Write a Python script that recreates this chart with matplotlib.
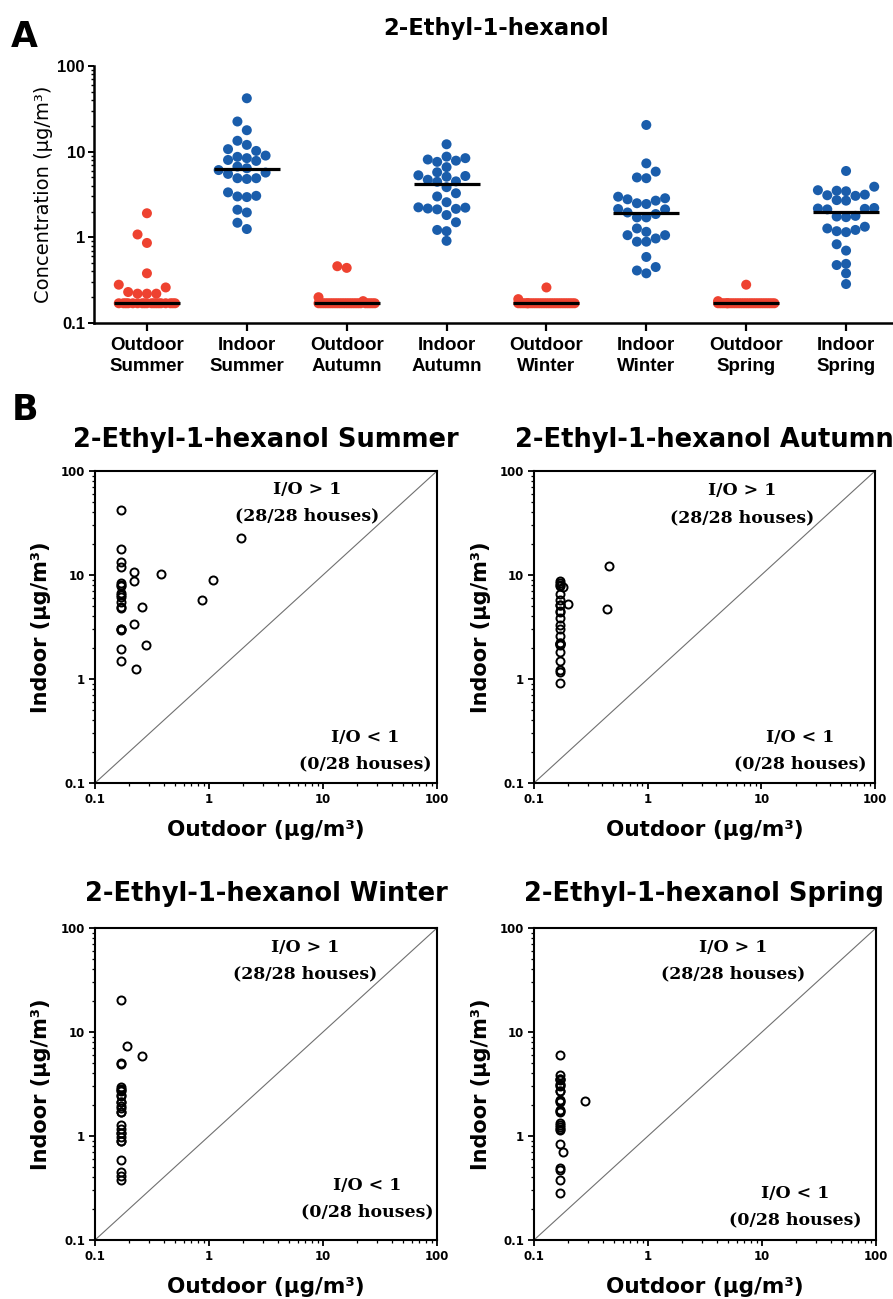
import numpy as np
import matplotlib.pyplot as plt
from matplotlib.ticker import NullFormatter, LogLocator

# ---- data: per house (28 houses), outdoor / indoor concentration, ug/m3
summer_out = [0.17, 1.91, 0.17, 0.17, 0.17, 0.22, 0.38, 1.08, 0.22, 0.17, 0.17, 0.17, 0.17, 0.17,
              0.17, 0.86, 0.17, 0.26, 0.17, 0.17, 0.22, 0.17, 0.17, 0.17, 0.28, 0.17, 0.17, 0.23]
summer_in = [42, 22.5, 17.8, 13.4, 12.0, 10.7, 10.2, 9.0, 8.7, 8.4, 8.0, 7.8, 6.7, 6.4,
             6.1, 5.7, 5.5, 4.9, 4.9, 4.8, 3.35, 3.05, 3.0, 2.95, 2.1, 1.95, 1.48, 1.25]

autumn_out = [0.46, 0.17, 0.17, 0.17, 0.17, 0.18, 0.17, 0.17, 0.20, 0.17, 0.17, 0.44, 0.17, 0.17,
              0.17, 0.17, 0.17, 0.17, 0.17, 0.17, 0.17, 0.17, 0.17, 0.17, 0.17, 0.17, 0.17, 0.17]
autumn_in = [12.2, 8.75, 8.4, 8.1, 7.85, 7.6, 6.6, 5.75, 5.3, 5.2, 5.1, 4.7, 4.5, 4.45,
             3.85, 3.27, 3.0, 2.57, 2.24, 2.22, 2.17, 2.15, 2.12, 1.82, 1.5, 1.22, 1.18, 0.91]

winter_out = [0.17, 0.19, 0.26, 0.17, 0.17, 0.17, 0.17, 0.17, 0.17, 0.17, 0.17, 0.17, 0.17, 0.17,
              0.17, 0.17, 0.17, 0.17, 0.17, 0.17, 0.17, 0.17, 0.17, 0.17, 0.17, 0.17, 0.17, 0.17]
winter_in = [20.5, 7.3, 5.85, 5.0, 4.9, 2.98, 2.86, 2.78, 2.68, 2.5, 2.45, 2.14, 2.12, 1.95,
             1.87, 1.71, 1.71, 1.27, 1.16, 1.06, 1.06, 0.97, 0.89, 0.89, 0.59, 0.45, 0.41, 0.38]

spring_out = [0.17, 0.17, 0.17, 0.17, 0.17, 0.17, 0.17, 0.17, 0.17, 0.17, 0.28, 0.17, 0.17, 0.17,
              0.17, 0.17, 0.17, 0.17, 0.17, 0.17, 0.17, 0.17, 0.17, 0.18, 0.17, 0.17, 0.17, 0.17]
spring_in = [5.95, 3.9, 3.55, 3.5, 3.45, 3.15, 3.1, 3.05, 2.72, 2.68, 2.17, 2.2, 2.15, 2.12,
             1.78, 1.75, 1.72, 1.33, 1.27, 1.22, 1.18, 1.15, 0.83, 0.70, 0.49, 0.475, 0.38, 0.285]

seasons = ['Summer', 'Autumn', 'Winter', 'Spring']
outdoor = [summer_out, autumn_out, winter_out, spring_out]
indoor = [summer_in, autumn_in, winter_in, spring_in]
n_houses = 28

RED = '#EE4230'
BLUE = '#1A5DAB'
W, H = 893, 1299


def swarm_offsets(vals, px_per_unit=100.0, px_per_dec=85.67, step=9.4, nside=3):
    # beeswarm on a fixed horizontal grid (like GraphPad), squeezed when full
    y = np.log10(np.asarray(vals, float)) * px_per_dec
    order = np.argsort(y, kind='stable')
    grid = np.arange(-nside, nside + 1) * step
    grid = sorted(grid, key=lambda g: (abs(g), g))
    fine = np.linspace(-nside * step, nside * step, 4 * nside * 2 + 1)
    placed = []
    offs = np.zeros(len(y))
    for idx in order:
        yi = y[idx]
        best = None
        for g in grid:
            if all(np.hypot(g - xj, yi - yj) >= step * 0.98 for xj, yj in placed):
                best = g
                break
        if best is None:
            best = max(fine, key=lambda g: min(np.hypot(g - xj, yi - yj) for xj, yj in placed))
        placed.append((best, yi))
        offs[idx] = best / px_per_unit
    return offs


def box(x0, y0, x1, y1):
    # pixel box (top-left origin) -> figure fraction
    return [x0 / W, 1 - y1 / H, (x1 - x0) / W, (y1 - y0) / H]


fig = plt.figure(figsize=(W / 100, H / 100), dpi=100)

# ---------------- panel A ----------------
axA = fig.add_axes(box(94, 66, 893, 323))
groups = []
for s, o, i in zip(seasons, outdoor, indoor):
    groups.append(('Outdoor\n' + s, o, RED))
    groups.append(('Indoor\n' + s, i, BLUE))

for k, (lab, vals, col) in enumerate(groups):
    xs = k + swarm_offsets(vals)
    axA.scatter(xs, vals, s=52, color=col, edgecolors='none', zorder=2)
    med = np.median(vals)
    axA.plot([k - 0.33, k + 0.33], [med, med], color='black', lw=2.3, zorder=3,
             solid_capstyle='butt')

axA.set_yscale('log')
axA.set_ylim(0.1, 100)
axA.set_xlim(-0.53, 7.47)
axA.set_yticks([0.1, 1, 10, 100], labels=['0.1', '1', '10', '100'])
axA.yaxis.set_minor_locator(LogLocator(base=10, subs=np.arange(2, 10)))
axA.yaxis.set_minor_formatter(NullFormatter())
axA.set_xticks(range(len(groups)), labels=[g[0] for g in groups])
for sp in ['top', 'right']:
    axA.spines[sp].set_visible(False)
for sp in ['left', 'bottom']:
    axA.spines[sp].set_linewidth(1.8)
axA.tick_params(axis='x', length=6, width=1.6, pad=4)
axA.tick_params(axis='y', which='major', length=4.5, width=1.4, pad=2)
axA.tick_params(axis='y', which='minor', length=2.5, width=1.0)
for t in axA.get_xticklabels():
    t.set_fontfamily(['Liberation Sans', 'DejaVu Sans'])
    t.set_fontweight('bold')
    t.set_fontsize(13.5)
    t.set_linespacing(1.3)
for t in axA.get_yticklabels():
    t.set_fontfamily(['Liberation Sans', 'DejaVu Sans'])
    t.set_fontweight('bold')
    t.set_fontsize(12)
axA.set_ylabel('Concentration (μg/m³)', fontsize=14)
axA.yaxis.set_label_coords(-0.051, 0.5)

fig.text(11 / W, 1 - 37 / H, 'A', fontsize=25, fontweight='bold', va='center', ha='left')
fig.text(496 / W, 1 - 28 / H, '2-Ethyl-1-hexanol', fontsize=16.3, fontweight='bold',
         va='center', ha='center')
fig.text(12 / W, 1 - 410 / H, 'B', fontsize=25, fontweight='bold', va='center', ha='left')

# ---------------- panel B ----------------
b_boxes = [(95, 471, 437, 783), (534, 471, 875, 783), (95, 928, 437, 1240), (534, 928, 876, 1240)]
title_y = [440, 440, 894, 894]
hi_pos = [(0.62, 0.94, 0.855), (0.61, 0.936, 0.85), (0.615, 0.939, 0.853), (0.583, 0.939, 0.853)]
lo_pos = [(0.79, 0.147, 0.061), (0.78, 0.147, 0.061), (0.797, 0.176, 0.09), (0.764, 0.15, 0.064)]

for k, s in enumerate(seasons):
    x0, y0, x1, y1 = b_boxes[k]
    ax = fig.add_axes(box(x0, y0, x1, y1))
    o = np.array(outdoor[k])
    i = np.array(indoor[k])
    ax.plot([0.1, 100], [0.1, 100], color='#707070', lw=0.8, zorder=1)
    ax.plot(o, i, 'o', mfc='none', mec='black', ms=5.8, mew=1.4, zorder=2)
    ax.set_xscale('log')
    ax.set_yscale('log')
    ax.set_xlim(0.1, 100)
    ax.set_ylim(0.1, 100)
    ax.set_xticks([0.1, 1, 10, 100], labels=['0.1', '1', '10', '100'])
    ax.set_yticks([0.1, 1, 10, 100], labels=['0.1', '1', '10', '100'])
    for a in (ax.xaxis, ax.yaxis):
        a.set_minor_locator(LogLocator(base=10, subs=np.arange(2, 10)))
        a.set_minor_formatter(NullFormatter())
    for sp in ax.spines.values():
        sp.set_linewidth(1.5)
    ax.tick_params(which='major', length=4.5, width=1.3, pad=2.5, labelsize=8.5)
    ax.tick_params(which='minor', length=2.5, width=0.9)
    for t in ax.get_xticklabels() + ax.get_yticklabels():
        t.set_fontweight('bold')

    ax.set_xlabel('Outdoor (μg/m³)', fontsize=15.5, fontweight='bold', va='center')
    ax.xaxis.set_label_coords(0.5, -0.151)
    ax.set_ylabel('Indoor (μg/m³)', fontsize=15, fontweight='bold', va='center')
    ax.yaxis.set_label_coords((41 - 95) / 342 if k % 2 == 0 else (481 - 534) / 341, 0.5)

    cx = (266 if k % 2 == 0 else 704) / W
    fig.text(cx, 1 - title_y[k] / H, '2-Ethyl-1-hexanol ' + s, fontsize=18.5,
             fontweight='bold', ha='center', va='center')

    serif = dict(family=['DejaVu Serif'], fontweight='bold', fontsize=12.5,
                 ha='center', va='center', transform=ax.transAxes)
    n_hi = int(np.sum(i > o))
    hx, hy1, hy2 = hi_pos[k]
    lx, ly1, ly2 = lo_pos[k]
    ax.text(hx, hy1, 'I/O > 1', **serif)
    ax.text(hx, hy2, f'({n_hi}/{n_houses} houses)', **serif)
    ax.text(lx, ly1, 'I/O < 1', **serif)
    ax.text(lx, ly2, f'({n_houses - n_hi}/{n_houses} houses)', **serif)

fig.savefig('out.png', dpi=100)
